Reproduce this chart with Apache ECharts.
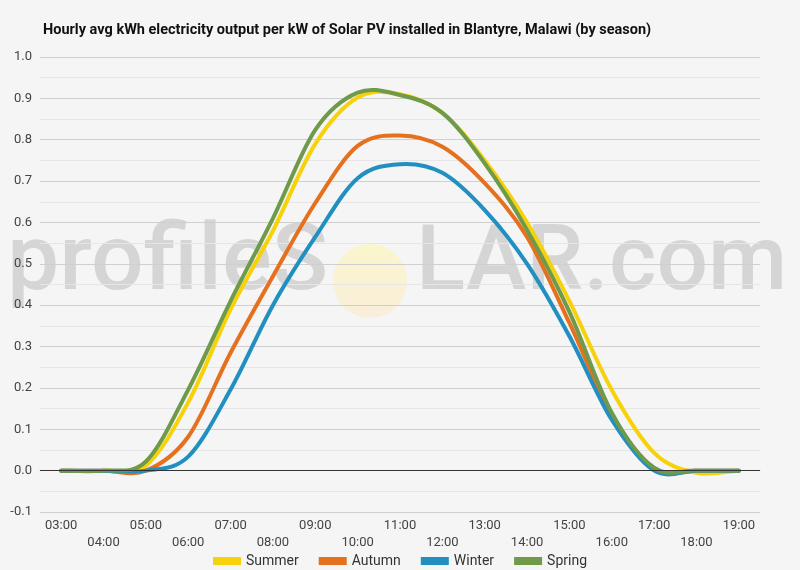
<!DOCTYPE html>
<html>
<head>
<meta charset="utf-8">
<script src="https://cdn.jsdelivr.net/npm/echarts@6/dist/echarts.min.js"></script>
<style>
html,body{margin:0;padding:0;background:#f5f5f5;}
#chart{width:800px;height:570px;}
</style>
</head>
<body>
<div id="chart"></div>
<script>
const hours = ['03:00','04:00','05:00','06:00','07:00','08:00','09:00','10:00','11:00','12:00','13:00','14:00','15:00','16:00','17:00','18:00','19:00'];
const summer = [0, 0, 0.012, 0.165, 0.39, 0.58, 0.79, 0.902, 0.91, 0.865, 0.75, 0.60, 0.41, 0.195, 0.043, -0.005, 0];
const autumn = [0, 0, 0, 0.082, 0.285, 0.47, 0.647, 0.785, 0.81, 0.783, 0.695, 0.565, 0.357, 0.135, 0.003, 0, 0];
const winter = [0, 0, 0, 0.034, 0.196, 0.40, 0.565, 0.707, 0.741, 0.72, 0.63, 0.50, 0.325, 0.123, 0, 0, 0];
const spring = [0, 0, 0.022, 0.196, 0.41, 0.61, 0.824, 0.914, 0.908, 0.865, 0.743, 0.582, 0.384, 0.14, 0.007, 0, 0];
const seriesNames = ['Summer','Autumn','Winter','Spring'];
const colors = ['#f7d20a','#e5711f','#2190c0','#6e9a49'];

const chart = echarts.init(document.getElementById('chart'));
const dataSets = [summer, autumn, winter, spring];

function splinePath(pts) {
  let d = 'M' + pts[0][0] + ' ' + pts[0][1];
  for (let i = 0; i < pts.length - 1; i++) {
    const p0 = pts[Math.max(0, i - 1)], p1 = pts[i], p2 = pts[i + 1], p3 = pts[Math.min(pts.length - 1, i + 2)];
    const c1x = p1[0] + (p2[0] - p0[0]) / 6, c1y = p1[1] + (p2[1] - p0[1]) / 6;
    const c2x = p2[0] - (p3[0] - p1[0]) / 6, c2y = p2[1] - (p3[1] - p1[1]) / 6;
    d += ' C' + c1x + ' ' + c1y + ' ' + c2x + ' ' + c2y + ' ' + p2[0] + ' ' + p2[1];
  }
  return d;
}

const series = dataSets.map((arr, si) => ({
  name: seriesNames[si],
  type: 'custom',
  z: 3,
  itemStyle: {color: colors[si]},
  encode: {x: 0, y: 1},
  data: arr.map((v, i) => [i, v]),
  renderItem: function (params, api) {
    if (params.dataIndex !== 0) return null;
    const pts = arr.map((v, i) => api.coord([i, v]));
    return {
      type: 'path',
      shape: {pathData: splinePath(pts)},
      style: {fill: 'none', stroke: colors[si], lineWidth: 4, lineJoin: 'round', lineCap: 'round'}
    };
  }
}));
series.push({
  type: 'line', data: [], silent: true,
  markLine: {
    silent: true, symbol: 'none', label: {show: false},
    lineStyle: {color: '#333', width: 1, type: 'solid'},
    data: [{yAxis: 0}]
  }
});

chart.setOption({
  backgroundColor: '#f5f5f5',
  animation: false,
  color: colors,
  title: {
    text: 'Hourly avg kWh electricity output per kW of Solar PV installed in Blantyre, Malawi (by season)',
    left: 38, top: 18,
    textStyle: {fontFamily: 'Roboto', fontWeight: 'bold', fontSize: 14.5, color: '#111'}
  },
  graphic: [
    {type: 'circle', z: 0, silent: true, shape: {cx: 370, cy: 281, r: 37},
     style: {fill: new echarts.graphic.LinearGradient(0,0,0,1,[{offset:0,color:'#f9f6cc'},{offset:1,color:'#f9eedb'}])}},
    {type: 'text', z: 0, silent: true, x: 328, y: 312,
     style: {text: 'profileS', fill: 'rgba(0,0,0,0.13)', font: '500 93px Roboto', textAlign: 'right', textVerticalAlign: 'bottom'}},
    {type: 'text', z: 0, silent: true, x: 416, y: 312,
     style: {text: 'LAR.com', fill: 'rgba(0,0,0,0.13)', font: '500 91px Roboto', textAlign: 'left', textVerticalAlign: 'bottom'}}
  ],
  legend: {
    top: 549, left: 'center',
    icon: 'rect', itemWidth: 28, itemHeight: 8, itemGap: 20,
    textStyle: {fontFamily: 'Roboto', fontSize: 14, color: '#333'},
    data: seriesNames
  },
  grid: {left: 40, right: 40, top: 57, bottom: 58},
  xAxis: {
    type: 'category',
    data: hours,
    boundaryGap: true,
    axisLine: {lineStyle: {color: '#cccccc'}},
    axisTick: {show: false},
    axisLabel: {
      interval: 0, margin: 5, lineHeight: 17,
      fontFamily: 'Roboto', fontSize: 13, color: '#444',
      formatter: (v, i) => (i % 2 ? '\n' + v : v)
    }
  },
  yAxis: {
    type: 'value', min: -0.1, max: 1.0, interval: 0.1,
    axisLine: {show: false}, axisTick: {show: false},
    axisLabel: {fontFamily: 'Roboto', fontSize: 13, color: '#444', margin: 8,
      formatter: v => v.toFixed(1)},
    splitLine: {lineStyle: {color: '#cfcfcf'}},
    minorTick: {show: false, splitNumber: 2},
    minorSplitLine: {show: true, lineStyle: {color: '#e6e6e6'}}
  },
  series: series
});
</script>
</body>
</html>
